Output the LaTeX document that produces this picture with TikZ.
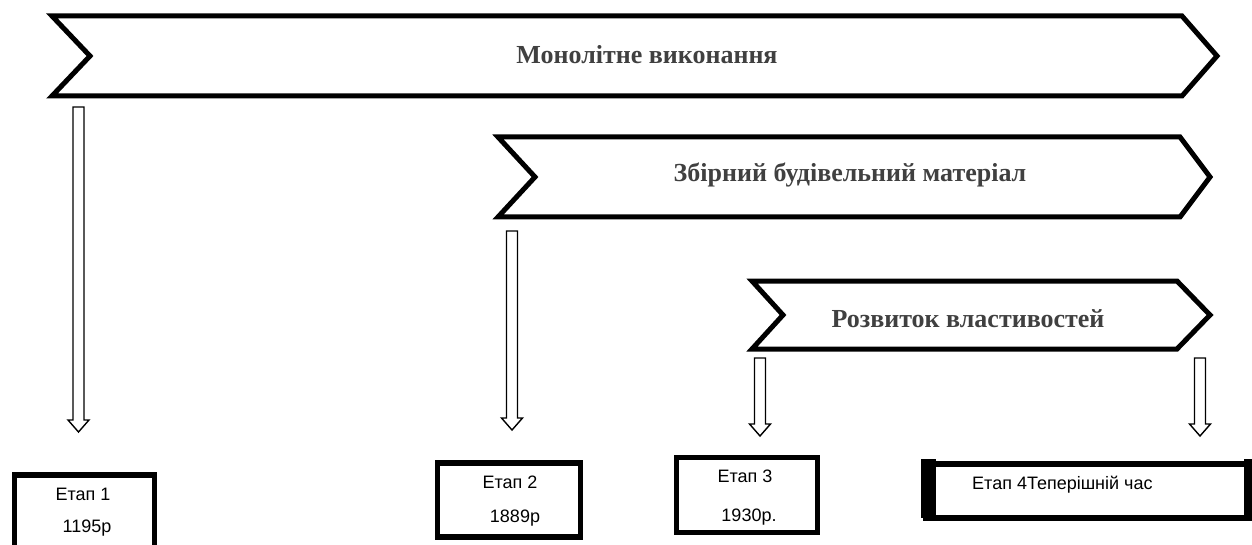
\documentclass[tikz,border=0pt]{standalone}
\usepackage{fontspec}
\setmainfont{Liberation Serif}
\newfontfamily\etapfont{Liberation Sans}
\definecolor{titlegray}{RGB}{64,64,64}
\tikzset{
  chevline/.style={line width=5pt, line join=miter},
  chevtext/.style={font=\fontsize{26}{30}\selectfont\bfseries, text=titlegray},
  stagebox/.style={draw, line width=5.5pt, fill=white},
  stagetext/.style={font=\etapfont\fontsize{18}{21}\selectfont, inner sep=0pt},
  blockarr/.style={draw=black, line width=1.4pt, fill=white, line join=miter}
}
% block arrow pointing down: x, top y, tip y
\newcommand{\downblock}[3]{%
  \draw[blockarr] (#1-5.5,#2) -- (#1+5.5,#2) -- (#1+5.5,#3-12) -- (#1+10.5,#3-12)
    -- (#1,#3) -- (#1-10.5,#3-12) -- (#1-5.5,#3-12) -- cycle;}
\begin{document}
\begin{tikzpicture}[x=1pt,y=-1pt]
\useasboundingbox (0,0) rectangle (1252,545);
\clip (0,0) rectangle (1252,545);
% chevrons
\draw[chevline] (52,16) -- (1182,16) -- (1217,56) -- (1182,96) -- (52,96) -- (90,56) -- cycle;
\node[chevtext] (ch1) at (647,55) {Монолітне виконання};
\draw[chevline] (498,137) -- (1180,137) -- (1210,177) -- (1180,217) -- (498,217) -- (535,177) -- cycle;
\node[chevtext] (ch2) at (850,175) {Збірний будівельний матеріал};
\draw[chevline] (752,281) -- (1177,281) -- (1210,315) -- (1177,349) -- (752,349) -- (783,315) -- cycle;
\node[chevtext] (ch3) at (968,319) {Розвиток властивостей};
% arrows
\downblock{78.5}{107}{432}
\downblock{512}{231}{430}
\downblock{760}{358}{436}
\downblock{1200}{358}{436}
% stage boxes
\node[stagebox, minimum width=140pt, minimum height=90pt] (s1) at (84.5,520) {};
\node[stagetext] (s1a) at (83,494) {Етап 1};
\node[stagetext] (s1b) at (87,528) {1195р};
\node[stagebox, minimum width=143pt, minimum height=74pt] (s2) at (509,500) {};
\node[stagetext] (s2a) at (510,482) {Етап 2};
\node[stagetext] (s2b) at (515,518) {1889р};
\node[stagebox, minimum width=141pt, minimum height=75pt] (s3) at (747,495) {};
\node[stagetext] (s3a) at (745,476) {Етап 3};
\node[stagetext] (s3b) at (749,517) {1930р.};
\node[stagebox, minimum width=324pt, minimum height=54pt] (s4) at (1088,491) {};
\fill (s4.north west) ++(-2.75,-2.75) rectangle ++(15,59.5);
\fill (s4.north east) ++(2.75,-2.75) rectangle ++(-12,59.5);
\node[stagetext, anchor=west] (s4a) at (972,485) {Етап  4Теперішній час};
\end{tikzpicture}
\end{document}
